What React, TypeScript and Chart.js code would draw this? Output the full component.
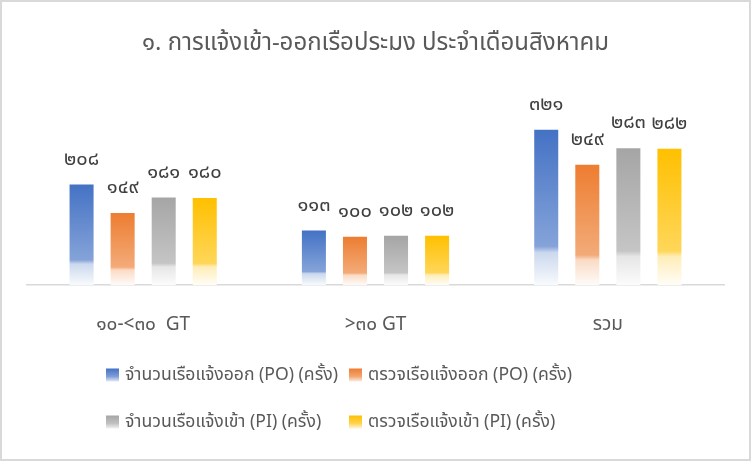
import React, { useEffect, useRef } from "react";
import { Chart, registerables } from "chart.js";

Chart.register(...registerables);

const chartTitle = "๑. การแจ้งเข้า-ออกเรือประมง ประจำเดือนสิงหาคม";
const categories = ["๑๐-<๓๐  GT", ">๓๐ GT", "รวม"];
const seriesNames = [
  "จำนวนเรือแจ้งออก (PO) (ครั้ง)",
  "ตรวจเรือแจ้งออก (PO) (ครั้ง)",
  "จำนวนเรือแจ้งเข้า (PI) (ครั้ง)",
  "ตรวจเรือแจ้งเข้า (PI) (ครั้ง)",
];
const poCount = [208, 113, 321];
const poChecked = [149, 100, 249];
const piCount = [181, 102, 283];
const piChecked = [180, 102, 282];
const seriesValues = [poCount, poChecked, piCount, piChecked];
const seriesColors = ["#4472C4", "#ED7D31", "#A5A5A5", "#FFC000"];

const FONT = "'Noto Sans Thai', Tahoma, 'DejaVu Sans', 'Noto Sans', sans-serif";
const thaiDigits = "๐๑๒๓๔๕๖๗๘๙";
const toThai = (n: number) => String(n).replace(/[0-9]/g, (d) => thaiDigits[+d]);

function hexToRgb(h: string) {
  const v = parseInt(h.slice(1), 16);
  return [(v >> 16) & 255, (v >> 8) & 255, v & 255];
}
function mix(h: string, t: number) {
  const [r, g, b] = hexToRgb(h);
  const m = (c: number) => Math.round(c + (255 - c) * t);
  return `rgb(${m(r)},${m(g)},${m(b)})`;
}
function barGradient(ctx: CanvasRenderingContext2D, top: number, bottom: number, color: string) {
  const g = ctx.createLinearGradient(0, top, 0, bottom);
  g.addColorStop(0, color);
  g.addColorStop(0.75, mix(color, 0.35));
  g.addColorStop(0.79, mix(color, 0.72));
  g.addColorStop(1, mix(color, 0.97));
  return g;
}

const borderPlugin = {
  id: "frame",
  beforeDraw(chart: any) {
    const { ctx, width, height } = chart;
    ctx.save();
    ctx.fillStyle = "#ffffff";
    ctx.fillRect(0, 0, width, height);
    ctx.strokeStyle = "#d9d9d9";
    ctx.lineWidth = 2;
    ctx.strokeRect(1, 1, width - 2, height - 2);
    ctx.restore();
  },
};

const labelPlugin = {
  id: "barLabels",
  afterDatasetsDraw(chart: any) {
    const { ctx } = chart;
    ctx.save();
    ctx.font = `20px ${FONT}`;
    ctx.fillStyle = "#404040";
    ctx.textAlign = "center";
    ctx.textBaseline = "middle";
    chart.data.datasets.forEach((ds: any, i: number) => {
      const meta = chart.getDatasetMeta(i);
      meta.data.forEach((el: any, j: number) => {
        ctx.fillText(toThai(ds.data[j]), el.x, el.y - 24);
      });
    });
    ctx.restore();
  },
};

const legendPlugin = {
  id: "gridLegend",
  afterDraw(chart: any) {
    const { ctx } = chart;
    const colX = [106, 349];
    const rowY = [375, 422];
    ctx.save();
    ctx.font = `17.6px ${FONT}`;
    ctx.textAlign = "left";
    ctx.textBaseline = "middle";
    chart.data.datasets.forEach((ds: any, i: number) => {
      const x = colX[i % 2];
      const y = rowY[Math.floor(i / 2)];
      const s = 13;
      const g = ctx.createLinearGradient(0, y - s / 2, 0, y + s / 2);
      g.addColorStop(0, seriesColors[i]);
      g.addColorStop(0.6, mix(seriesColors[i], 0.3));
      g.addColorStop(1, mix(seriesColors[i], 0.85));
      ctx.fillStyle = g;
      ctx.fillRect(x, y - s / 2, s, s);
      ctx.fillStyle = "#595959";
      ctx.fillText(ds.label, x + 19, y + 1);
    });
    ctx.restore();
  },
};

export default function App() {
  const ref = useRef<HTMLCanvasElement>(null);
  useEffect(() => {
    document.body.style.margin = "0";
    const canvas = ref.current!;
    const chart = new Chart(canvas, {
      type: "bar",
      data: {
        labels: categories,
        datasets: seriesValues.map((vals, i) => ({
          label: seriesNames[i],
          data: vals,
          categoryPercentage: 0.707,
          barPercentage: 0.585,
          backgroundColor: (c: any) => {
            const ch = c.chart;
            if (!ch.chartArea || c.raw == null || !ch.scales.y) return seriesColors[i];
            const top = ch.scales.y.getPixelForValue(c.raw);
            const base = ch.scales.y.getPixelForValue(0);
            return barGradient(ch.ctx, top, base, seriesColors[i]);
          },
          borderWidth: 0,
        })),
      },
      options: {
        responsive: false,
        animation: false,
        layout: { padding: { left: 27, right: 27, top: 0, bottom: 101 } },
        plugins: {
          legend: { display: false },
          tooltip: { enabled: false },
          title: {
            display: true,
            text: chartTitle,
            color: "#595959",
            font: { family: FONT, size: 24, weight: "normal" },
            padding: { top: 31, bottom: 56 },
          },
        },
        scales: {
          x: {
            grid: { display: false },
            border: { display: true, color: "#d9d9d9", width: 1.5 },
            ticks: { color: "#595959", font: { family: FONT, size: 19 }, padding: 22 },
          },
          y: {
            display: false,
            min: 0,
            max: 350,
          },
        },
      },
      plugins: [borderPlugin, labelPlugin, legendPlugin],
    });
    return () => chart.destroy();
  }, []);
  return (
    <div style={{ position: "absolute", left: 0, top: 0 }}>
      <canvas ref={ref} width={751} height={461} style={{ display: "block" }} />
    </div>
  );
}
